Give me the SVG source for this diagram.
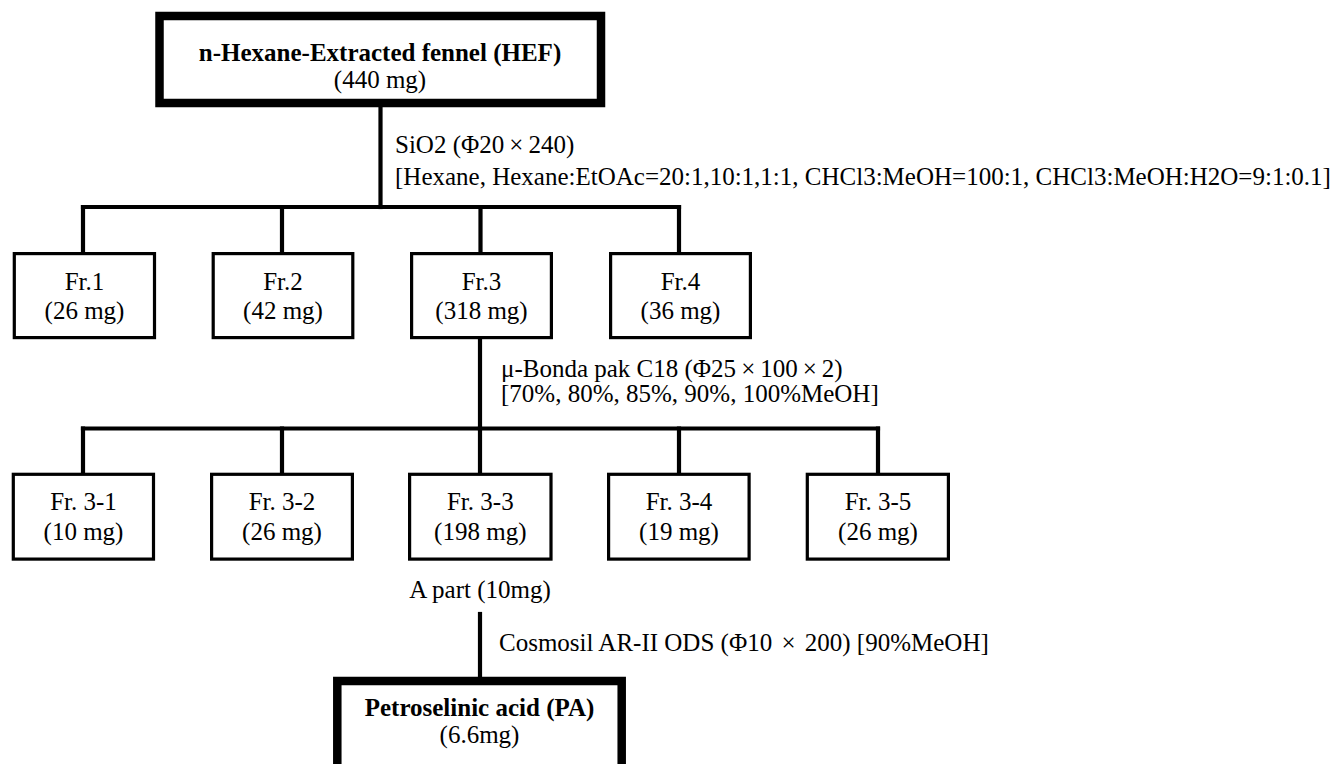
<svg xmlns="http://www.w3.org/2000/svg" width="1336" height="764" viewBox="0 0 1336 764">
<style>
  text { font-family: "Liberation Serif", "Times New Roman", serif; font-size: 25px; fill: #000; }
  .c { text-anchor: middle; }
  .b { font-weight: bold; }
  .main { fill: #fff; stroke: #000; stroke-width: 8.5; }
  .fr { fill: #fff; stroke: #000; stroke-width: 3.2; }
  .conn { fill: none; stroke: #000; stroke-width: 4.2; stroke-linecap: square; }
</style>
<rect width="1336" height="764" fill="#fff"/>

<g id="connectors">
  <path class="conn" d="M380.5 108 V207"/>
  <path class="conn" d="M83 207 H679"/>
  <path class="conn" d="M83 207 V252 M282 207 V252 M480.5 207 V252 M679 207 V252"/>
  <path class="conn" d="M480 339 V428.5"/>
  <path class="conn" d="M83 428.5 H878"/>
  <path class="conn" d="M83 428.5 V472 M282 428.5 V472 M480 428.5 V472 M679 428.5 V472 M878 428.5 V472"/>
  <path class="conn" d="M480 614 V677"/>
</g>

<g id="label-sio2">
  <text x="395" y="153">SiO2 (Φ20<tspan dx="5">×</tspan><tspan dx="5">240)</tspan></text>
  <text x="395" y="185">[Hexane, Hexane:EtOAc=20:1,10:1,1:1, CHCl3:MeOH=100:1, CHCl3:MeOH:H2O=9:1:0.1]</text>
</g>
<g id="label-bonda">
  <text x="501" y="377">μ-Bonda pak C18 (Φ25<tspan dx="5">×</tspan><tspan dx="5">100</tspan><tspan dx="5">×</tspan><tspan dx="5">2)</tspan></text>
  <text x="501" y="402">[70%, 80%, 85%, 90%, 100%MeOH]</text>
</g>
<g id="label-cosmosil">
  <text x="499" y="651">Cosmosil AR-II ODS (Φ10 <tspan dx="3">×</tspan><tspan dx="3"> 200) [90%MeOH]</tspan></text>
</g>

<g id="node-hef">
  <rect class="main" x="159.5" y="16" width="441.5" height="87"/>
  <text class="c b" x="380" y="61">n-Hexane-Extracted fennel (HEF)</text>
  <text class="c" x="380" y="88">(440 mg)</text>
</g>

<g id="node-fr1">
  <rect class="fr" x="14.3" y="253.6" width="140.2" height="84"/>
  <text class="c" x="84.5" y="290">Fr.1</text>
  <text class="c" x="84.5" y="319">(26 mg)</text>
</g>
<g id="node-fr2">
  <rect class="fr" x="213.2" y="253.6" width="139.6" height="84"/>
  <text class="c" x="283" y="290">Fr.2</text>
  <text class="c" x="283" y="319">(42 mg)</text>
</g>
<g id="node-fr3">
  <rect class="fr" x="411.6" y="253.6" width="139.8" height="84"/>
  <text class="c" x="481.5" y="290">Fr.3</text>
  <text class="c" x="481.5" y="319">(318 mg)</text>
</g>
<g id="node-fr4">
  <rect class="fr" x="610.6" y="253.6" width="139.8" height="84"/>
  <text class="c" x="680.5" y="290">Fr.4</text>
  <text class="c" x="680.5" y="319">(36 mg)</text>
</g>

<g id="node-fr3-1">
  <rect class="fr" x="13.3" y="474.3" width="140.2" height="84.8"/>
  <text class="c" x="83.5" y="510">Fr. 3-1</text>
  <text class="c" x="83.5" y="540">(10 mg)</text>
</g>
<g id="node-fr3-2">
  <rect class="fr" x="211.6" y="474.3" width="140.8" height="84.8"/>
  <text class="c" x="282" y="510">Fr. 3-2</text>
  <text class="c" x="282" y="540">(26 mg)</text>
</g>
<g id="node-fr3-3">
  <rect class="fr" x="409.6" y="474.3" width="141.4" height="84.8"/>
  <text class="c" x="480.3" y="510">Fr. 3-3</text>
  <text class="c" x="480.3" y="540">(198 mg)</text>
</g>
<g id="node-fr3-4">
  <rect class="fr" x="608.6" y="474.3" width="140.5" height="84.8"/>
  <text class="c" x="679" y="510">Fr. 3-4</text>
  <text class="c" x="679" y="540">(19 mg)</text>
</g>
<g id="node-fr3-5">
  <rect class="fr" x="807.3" y="474.3" width="141.1" height="84.8"/>
  <text class="c" x="878" y="510">Fr. 3-5</text>
  <text class="c" x="878" y="540">(26 mg)</text>
</g>

<g id="node-apart">
  <text class="c" x="480" y="598">A part (10mg)</text>
</g>

<g id="node-pa">
  <rect class="main" x="337.3" y="681" width="284.4" height="100"/>
  <text class="c b" x="479.5" y="716">Petroselinic acid (PA)</text>
  <text class="c" x="479.5" y="743">(6.6mg)</text>
</g>
</svg>
